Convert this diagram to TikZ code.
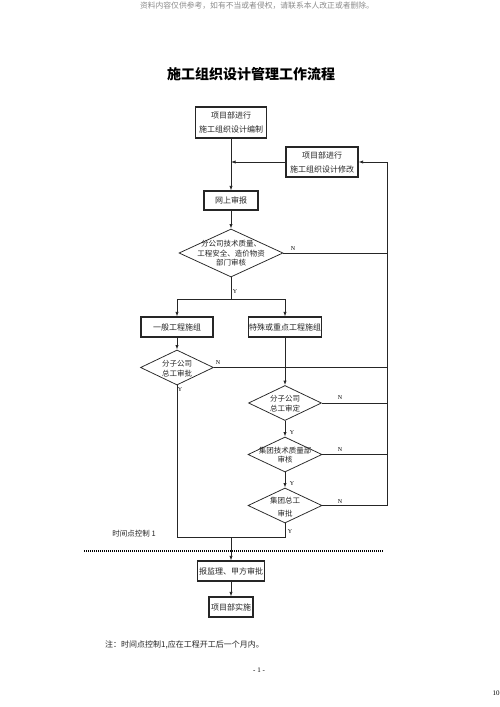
\documentclass[tikz,border=0pt]{standalone}
\usepackage{fontspec}
\setmainfont{Liberation Serif}
\newfontfamily\cjk{Noto Sans CJK SC}
\usetikzlibrary{shapes.geometric,arrows.meta}
\newcommand\zbox[1]{\makebox[0pt]{\raisebox{-6.5pt}{\smash{\begin{tabular}{@{}c@{}}#1\end{tabular}}}}}
\tikzset{
  box/.style={draw=black!85, line width=1.1pt, inner sep=0pt, align=center,
    text=black!85, font=\cjk\fontsize{8}{14}\selectfont},
  dia/.style={draw=black!85, line width=0.75pt, diamond, inner sep=0pt,
    text=black!85, font=\cjk\fontsize{7.5}{10}\selectfont},
  lab/.style={font=\fontsize{6}{6}\selectfont, inner sep=0pt},
  ln/.style={line width=0.75pt, draw=black!85},
  arr/.style={ln, -{Latex[length=4.5pt,width=3.2pt]}},
  cjktext/.style={inner sep=0pt, text=black!85, font=\cjk\fontsize{8}{10}\selectfont}
}
\begin{document}
\begin{tikzpicture}[x=1pt,y=-1pt]
\fill[white] (0,0) rectangle (500,707);
\useasboundingbox (0,0) rectangle (500,707);

% header, title, footer
\node[cjktext, text=black!45, font=\cjk\fontsize{7.8}{8}\selectfont] (hdr) at (257,6) {资料内容仅供参考，如有不当或者侵权，请联系本人改正或者删除。};
\node[inner sep=0pt, font=\cjk\bfseries\fontsize{14}{14}\selectfont] (title) at (251,74) {施工组织设计管理工作流程};

% boxes
\node[box, minimum width=71pt, minimum height=31pt] (b1) at (231,122.5) {项目部进行\\施工组织设计编制};
\node[box, minimum width=72pt, minimum height=30pt] (b2) at (322,162) {项目部进行\\施工组织设计修改};
\node[box, minimum width=54pt, minimum height=19pt] (b3) at (231,200.5) {网上审报};
\node[dia, minimum width=104pt, minimum height=48pt, font=\cjk\fontsize{7.5}{9.5}\selectfont] (d1) at (231,253) {\zbox{分公司技术质量、\\工程安全、造价物资\\部门审核}};
\node[box, minimum width=72pt, minimum height=20pt] (b4) at (177,327) {一般工程施组};
\node[box, minimum width=73pt, minimum height=20pt] (b5) at (285,327) {特殊或重点工程施组};
\node[dia, minimum width=73pt, minimum height=35pt] (d2) at (177,367.5) {\zbox{分子公司\\总工审批}};
\node[dia, minimum width=73pt, minimum height=35pt] (d3) at (285,403) {\zbox{分子公司\\总工审定}};
\node[dia, minimum width=74pt, minimum height=35pt, font=\cjk\fontsize{7.5}{9.5}\selectfont] (d4) at (285,454.5) {\zbox{集团技术质量部\\审核}};
\node[dia, minimum width=74pt, minimum height=35pt, font=\cjk\fontsize{7.5}{13}\selectfont] (d5) at (285,505.5) {\zbox{集团总工\\审批}};
\node[box, minimum width=67pt, minimum height=20pt] (b6) at (231,571) {报监理、甲方审批};
\node[box, minimum width=44pt, minimum height=20pt] (b7) at (231,607) {项目部实施};

% coordinates
\coordinate (j1) at (231,162);
\coordinate (s) at (231,299);
\coordinate (r1) at (387,253);
\coordinate (r2) at (387,367.5);
\coordinate (r3) at (387,403);
\coordinate (r4) at (387,454.5);
\coordinate (r5) at (387,505.5);
\coordinate (bl) at (177,537);
\coordinate (br) at (285,537);
\coordinate (m) at (231,537);
\coordinate (dl) at (84,551);
\coordinate (dr) at (383,551);

% connectors
\draw[arr] (b1.south) -- (b3.north);
\draw[arr] (b2.west) -- (j1);
\draw[arr] (b3.south) -- (d1.north);
\draw[ln] (d1.east) -- (r1);
\draw[ln] (d2.east) -- (r2);
\draw[ln] (d3.east) -- (r3);
\draw[ln] (d4.east) -- (r4);
\draw[ln] (d5.east) -- (r5);
\draw[arr] (r5) |- (b2.east);
\draw[ln] (d1.south) -- (s);
\draw[arr] (s) -| (b4.north);
\draw[arr] (s) -| (b5.north);
\draw[arr] (b4.south) -- (d2.north);
\draw[arr] (b5.south) -- (d3.north);
\draw[arr] (d3.south) -- (d4.north);
\draw[arr] (d4.south) -- (d5.north);
\draw[ln] (d2.south) -- (bl) -- (br) -- (d5.south);
\draw[line width=1.8pt, dash pattern=on 1.3pt off 0.7pt] (dl) -- (dr);
\draw[arr] (m) -- (b6.north);
\draw[arr] (b6.south) -- (b7.north);

% Y/N labels
\node[lab] (n1) at (293,249) {N};
\node[lab] (y1) at (235,292) {Y};
\node[lab] (n2) at (218,363) {N};
\node[lab] (y2) at (180,390) {Y};
\node[lab] (n3) at (340,398) {N};
\node[lab] (y3) at (292,433) {Y};
\node[lab] (n4) at (340,450) {N};
\node[lab] (y4) at (292,484) {Y};
\node[lab] (n5) at (340,502) {N};
\node[lab] (y5) at (290,532) {Y};

% other texts
\node[cjktext, font=\cjk\fontsize{7.5}{8}\selectfont] (tp) at (134,534) {时间点控制 1};
\node[cjktext, anchor=west] (note) at (105,645) {注：时间点控制1,应在工程开工后一个月内。};
\node[inner sep=0pt, font=\fontsize{7}{7}\selectfont] (pg) at (259,670) {- 1 -};
\node[inner sep=0pt, font=\fontsize{7}{7}\selectfont] (ten) at (496,693) {10};
\end{tikzpicture}
\end{document}
